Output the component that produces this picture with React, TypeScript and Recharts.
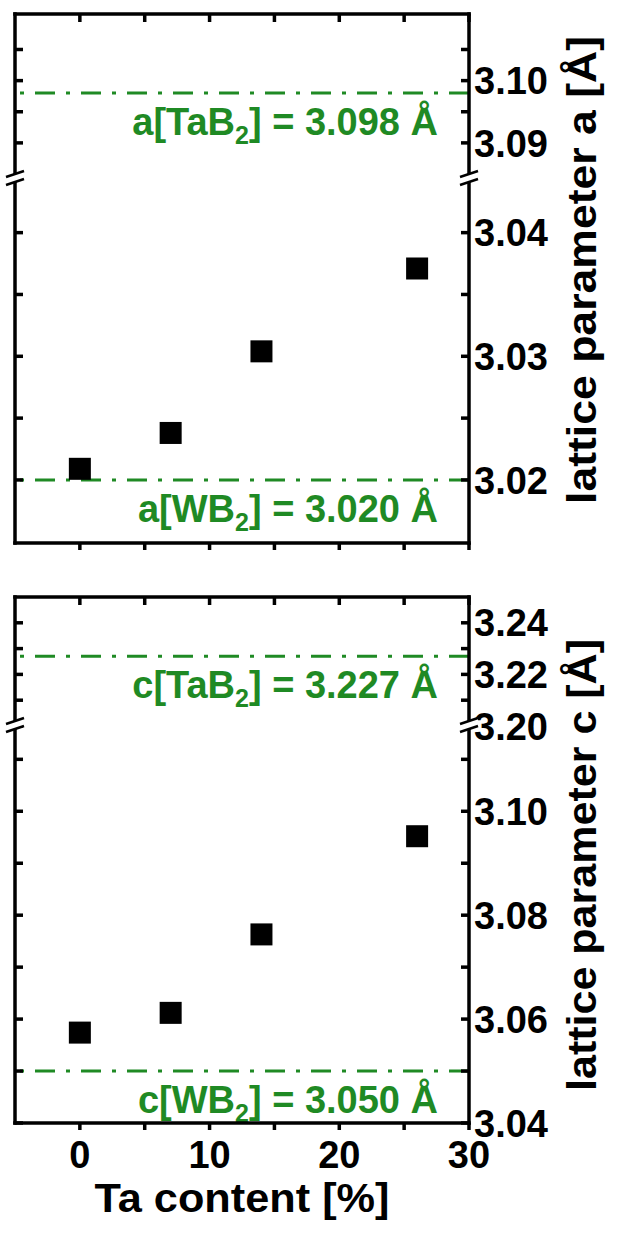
import { ScatterChart, Scatter, XAxis, YAxis, ReferenceLine } from "recharts";

// measured data (Ta content in %, lattice parameters in Å)
const TA_CONTENT = [0, 7, 14, 26];
const LATTICE_A = [3.0209, 3.0238, 3.0304, 3.0371];
const LATTICE_C = [3.0574, 3.0612, 3.0763, 3.0952];

// reference values of the binary borides
const A_REF_NAMES = ["a[TaB", "a[WB"];
const A_REF_VALUES = [3.098, 3.02];
const C_REF_NAMES = ["c[TaB", "c[WB"];
const C_REF_VALUES = [3.227, 3.05];

const X_DOMAIN = [-5, 30];
const X_TICKS = [0, 5, 10, 15, 20, 25, 30];
const X_TICK_LABELS = [0, 10, 20, 30];

// broken y axes: upper and lower part of each panel
const A_UPPER_DOMAIN = [3.0842, 3.1107];
const A_UPPER_MAJOR = [3.09, 3.1];
const A_UPPER_MINOR = [3.095, 3.105];
const A_LOWER_DOMAIN = [3.0149, 3.0445];
const A_LOWER_MAJOR = [3.02, 3.03, 3.04];
const A_LOWER_MINOR = [3.025, 3.035];

const C_UPPER_DOMAIN = [3.2, 3.25];
const C_UPPER_MAJOR = [3.2, 3.22, 3.24];
const C_UPPER_MINOR = [3.21, 3.23];
const C_LOWER_DOMAIN = [3.04, 3.1168];
const C_LOWER_MAJOR = [3.04, 3.06, 3.08, 3.1];
const C_LOWER_MINOR = [3.05, 3.07, 3.09, 3.11];

const W = 621;
const H = 1234;
const PLOT_L = 15;
const PLOT_R = 469;
const GREEN = "#1f8a24";
const FONT = '"Liberation Sans", Arial, sans-serif';
const AXIS_LINE = { stroke: "#000", strokeWidth: 3.5, strokeLinecap: "square" as const };

const aPoints = TA_CONTENT.map((x, i) => ({ x, y: LATTICE_A[i] }));
const cPoints = TA_CONTENT.map((x, i) => ({ x, y: LATTICE_C[i] }));

function Square(props: any) {
  const { cx, cy } = props;
  if (cx == null || cy == null) return <g />;
  return <rect x={cx - 11} y={cy - 11} width={22} height={22} fill="#000" />;
}

function isMajor(v: number, major: number[]) {
  return major.some((m) => Math.abs(m - v) < 1e-6);
}

function RefLabel({ viewBox, name, value }: any) {
  if (!viewBox) return null;
  const x = viewBox.x + viewBox.width - 31;
  const y = viewBox.y + 42;
  return (
    <text x={x} y={y} textAnchor="end" fill={GREEN} fontFamily={FONT} fontWeight="bold" fontSize={38}>
      {name}
      <tspan dy={9} fontSize={25}>2</tspan>
      <tspan dy={-9}>{"] = " + value.toFixed(3) + " Å"}</tspan>
    </text>
  );
}

type SectionProps = {
  top: number;
  bottom: number;
  domain: number[];
  major: number[];
  minor: number[];
  points: { x: number; y: number }[];
  refNames: string[];
  refValues: number[];
  xSide: "top" | "bottom";
  showXLabels?: boolean;
};

function Section({ top, bottom, domain, major, minor, points, refNames, refValues, xSide, showXLabels }: SectionProps) {
  const padT = 24;
  const padB = showXLabels ? 110 : 24;
  const ticks = [...major, ...minor].sort((a, b) => a - b);
  const visible = points.filter((p) => p.y >= domain[0] && p.y <= domain[1]);

  const xTick = (p: any) => {
    const { x, y, payload } = p;
    const len = xSide === "top" ? 8 : 7;
    return (
      <g>
        <line x1={x} x2={x} y1={y} y2={y + len} stroke="#000" strokeWidth={3.5} />
        {showXLabels && X_TICK_LABELS.includes(payload.value) && (
          <text x={x} y={y + 45} textAnchor="middle" fontFamily={FONT} fontWeight="bold" fontSize={38} fill="#000">
            {payload.value}
          </text>
        )}
      </g>
    );
  };

  const leftTick = (p: any) => (
    <line x1={p.x} x2={p.x + 8} y1={p.y} y2={p.y} stroke="#000" strokeWidth={3.5} />
  );

  const rightTick = (p: any) => {
    const { x, y, payload } = p;
    return (
      <g>
        <line x1={x - 8} x2={x} y1={y} y2={y} stroke="#000" strokeWidth={3.5} />
        {isMajor(payload.value, major) && (
          <text x={x + 5} y={y} dy="0.36em" fontFamily={FONT} fontWeight="bold" fontSize={38} fill="#000">
            {payload.value.toFixed(2)}
          </text>
        )}
      </g>
    );
  };

  return (
    <div style={{ position: "absolute", left: 0, top: top - padT }}>
      <ScatterChart
        width={W}
        height={bottom - top + padT + padB}
        margin={{ top: padT - 1, right: 0, bottom: padB - 1, left: PLOT_L - 1 }}
      >
        <XAxis
          type="number"
          dataKey="x"
          domain={X_DOMAIN}
          ticks={X_TICKS}
          orientation={xSide}
          height={1}
          interval={0}
          tickSize={0}
          tickMargin={0}
          tickLine={false}
          axisLine={AXIS_LINE}
          tick={xTick}
          allowDataOverflow
        />
        <YAxis
          yAxisId="l"
          orientation="left"
          width={1}
          type="number"
          domain={domain}
          ticks={ticks}
          interval={0}
          tickSize={0}
          tickMargin={0}
          tickLine={false}
          axisLine={AXIS_LINE}
          tick={leftTick}
          allowDataOverflow
        />
        <YAxis
          yAxisId="r"
          orientation="right"
          width={W - PLOT_R}
          type="number"
          dataKey="y"
          domain={domain}
          ticks={ticks}
          interval={0}
          tickSize={0}
          tickMargin={0}
          tickLine={false}
          axisLine={AXIS_LINE}
          tick={rightTick}
          allowDataOverflow
        />
        {refValues.map((v, i) => (
          <ReferenceLine
            key={v}
            yAxisId="r"
            y={v}
            stroke={GREEN}
            strokeWidth={3}
            strokeDasharray="20 11 4 11"
            label={(p: any) => <RefLabel viewBox={p.viewBox} name={refNames[i]} value={v} />}
          />
        ))}
        <Scatter yAxisId="r" data={visible} isAnimationActive={false} shape={Square} />
      </ScatterChart>
    </div>
  );
}

function BreakMark({ x, y }: { x: number; y: number }) {
  return (
    <g>
      <polygon points={`${x - 9},${y - 1} ${x + 9},${y - 7} ${x + 9},${y + 1} ${x - 9},${y + 7}`} fill="#fff" />
      <line x1={x - 9} y1={y - 1} x2={x + 9} y2={y - 7} stroke="#000" strokeWidth={2.5} />
      <line x1={x - 9} y1={y + 7} x2={x + 9} y2={y + 1} stroke="#000" strokeWidth={2.5} />
    </g>
  );
}

export default function App() {
  const aBreak = 178;
  const cBreak = 725;
  return (
    <div style={{ position: "absolute", left: 0, top: 0, width: W, height: H, background: "#fff" }}>
      <Section
        top={14}
        bottom={aBreak}
        domain={A_UPPER_DOMAIN}
        major={A_UPPER_MAJOR}
        minor={A_UPPER_MINOR}
        points={aPoints}
        refNames={A_REF_NAMES}
        refValues={A_REF_VALUES}
        xSide="top"
      />
      <Section
        top={aBreak}
        bottom={543}
        domain={A_LOWER_DOMAIN}
        major={A_LOWER_MAJOR}
        minor={A_LOWER_MINOR}
        points={aPoints}
        refNames={A_REF_NAMES}
        refValues={A_REF_VALUES}
        xSide="bottom"
      />
      <Section
        top={597}
        bottom={cBreak}
        domain={C_UPPER_DOMAIN}
        major={C_UPPER_MAJOR}
        minor={C_UPPER_MINOR}
        points={cPoints}
        refNames={C_REF_NAMES}
        refValues={C_REF_VALUES}
        xSide="top"
      />
      <Section
        top={cBreak}
        bottom={1123}
        domain={C_LOWER_DOMAIN}
        major={C_LOWER_MAJOR}
        minor={C_LOWER_MINOR}
        points={cPoints}
        refNames={C_REF_NAMES}
        refValues={C_REF_VALUES}
        xSide="bottom"
        showXLabels
      />
      <svg width={W} height={H} style={{ position: "absolute", left: 0, top: 0, pointerEvents: "none" }}>
        <BreakMark x={PLOT_L} y={aBreak} />
        <BreakMark x={PLOT_R} y={aBreak} />
        <BreakMark x={PLOT_L} y={cBreak} />
        <BreakMark x={PLOT_R} y={cBreak} />
        <text
          transform="translate(596, 270) rotate(-90)"
          textAnchor="middle"
          textLength={468}
          lengthAdjust="spacingAndGlyphs"
          fontFamily={FONT}
          fontWeight="bold"
          fontSize={40}
          fill="#000"
        >
          lattice parameter a [Å]
        </text>
        <text
          transform="translate(596, 865) rotate(-90)"
          textAnchor="middle"
          textLength={452}
          lengthAdjust="spacingAndGlyphs"
          fontFamily={FONT}
          fontWeight="bold"
          fontSize={40}
          fill="#000"
        >
          lattice parameter c [Å]
        </text>
        <text
          x={(PLOT_L + PLOT_R) / 2}
          y={1212}
          textAnchor="middle"
          textLength={295}
          lengthAdjust="spacingAndGlyphs"
          fontFamily={FONT}
          fontWeight="bold"
          fontSize={40}
          fill="#000"
        >
          Ta content [%]
        </text>
      </svg>
    </div>
  );
}
